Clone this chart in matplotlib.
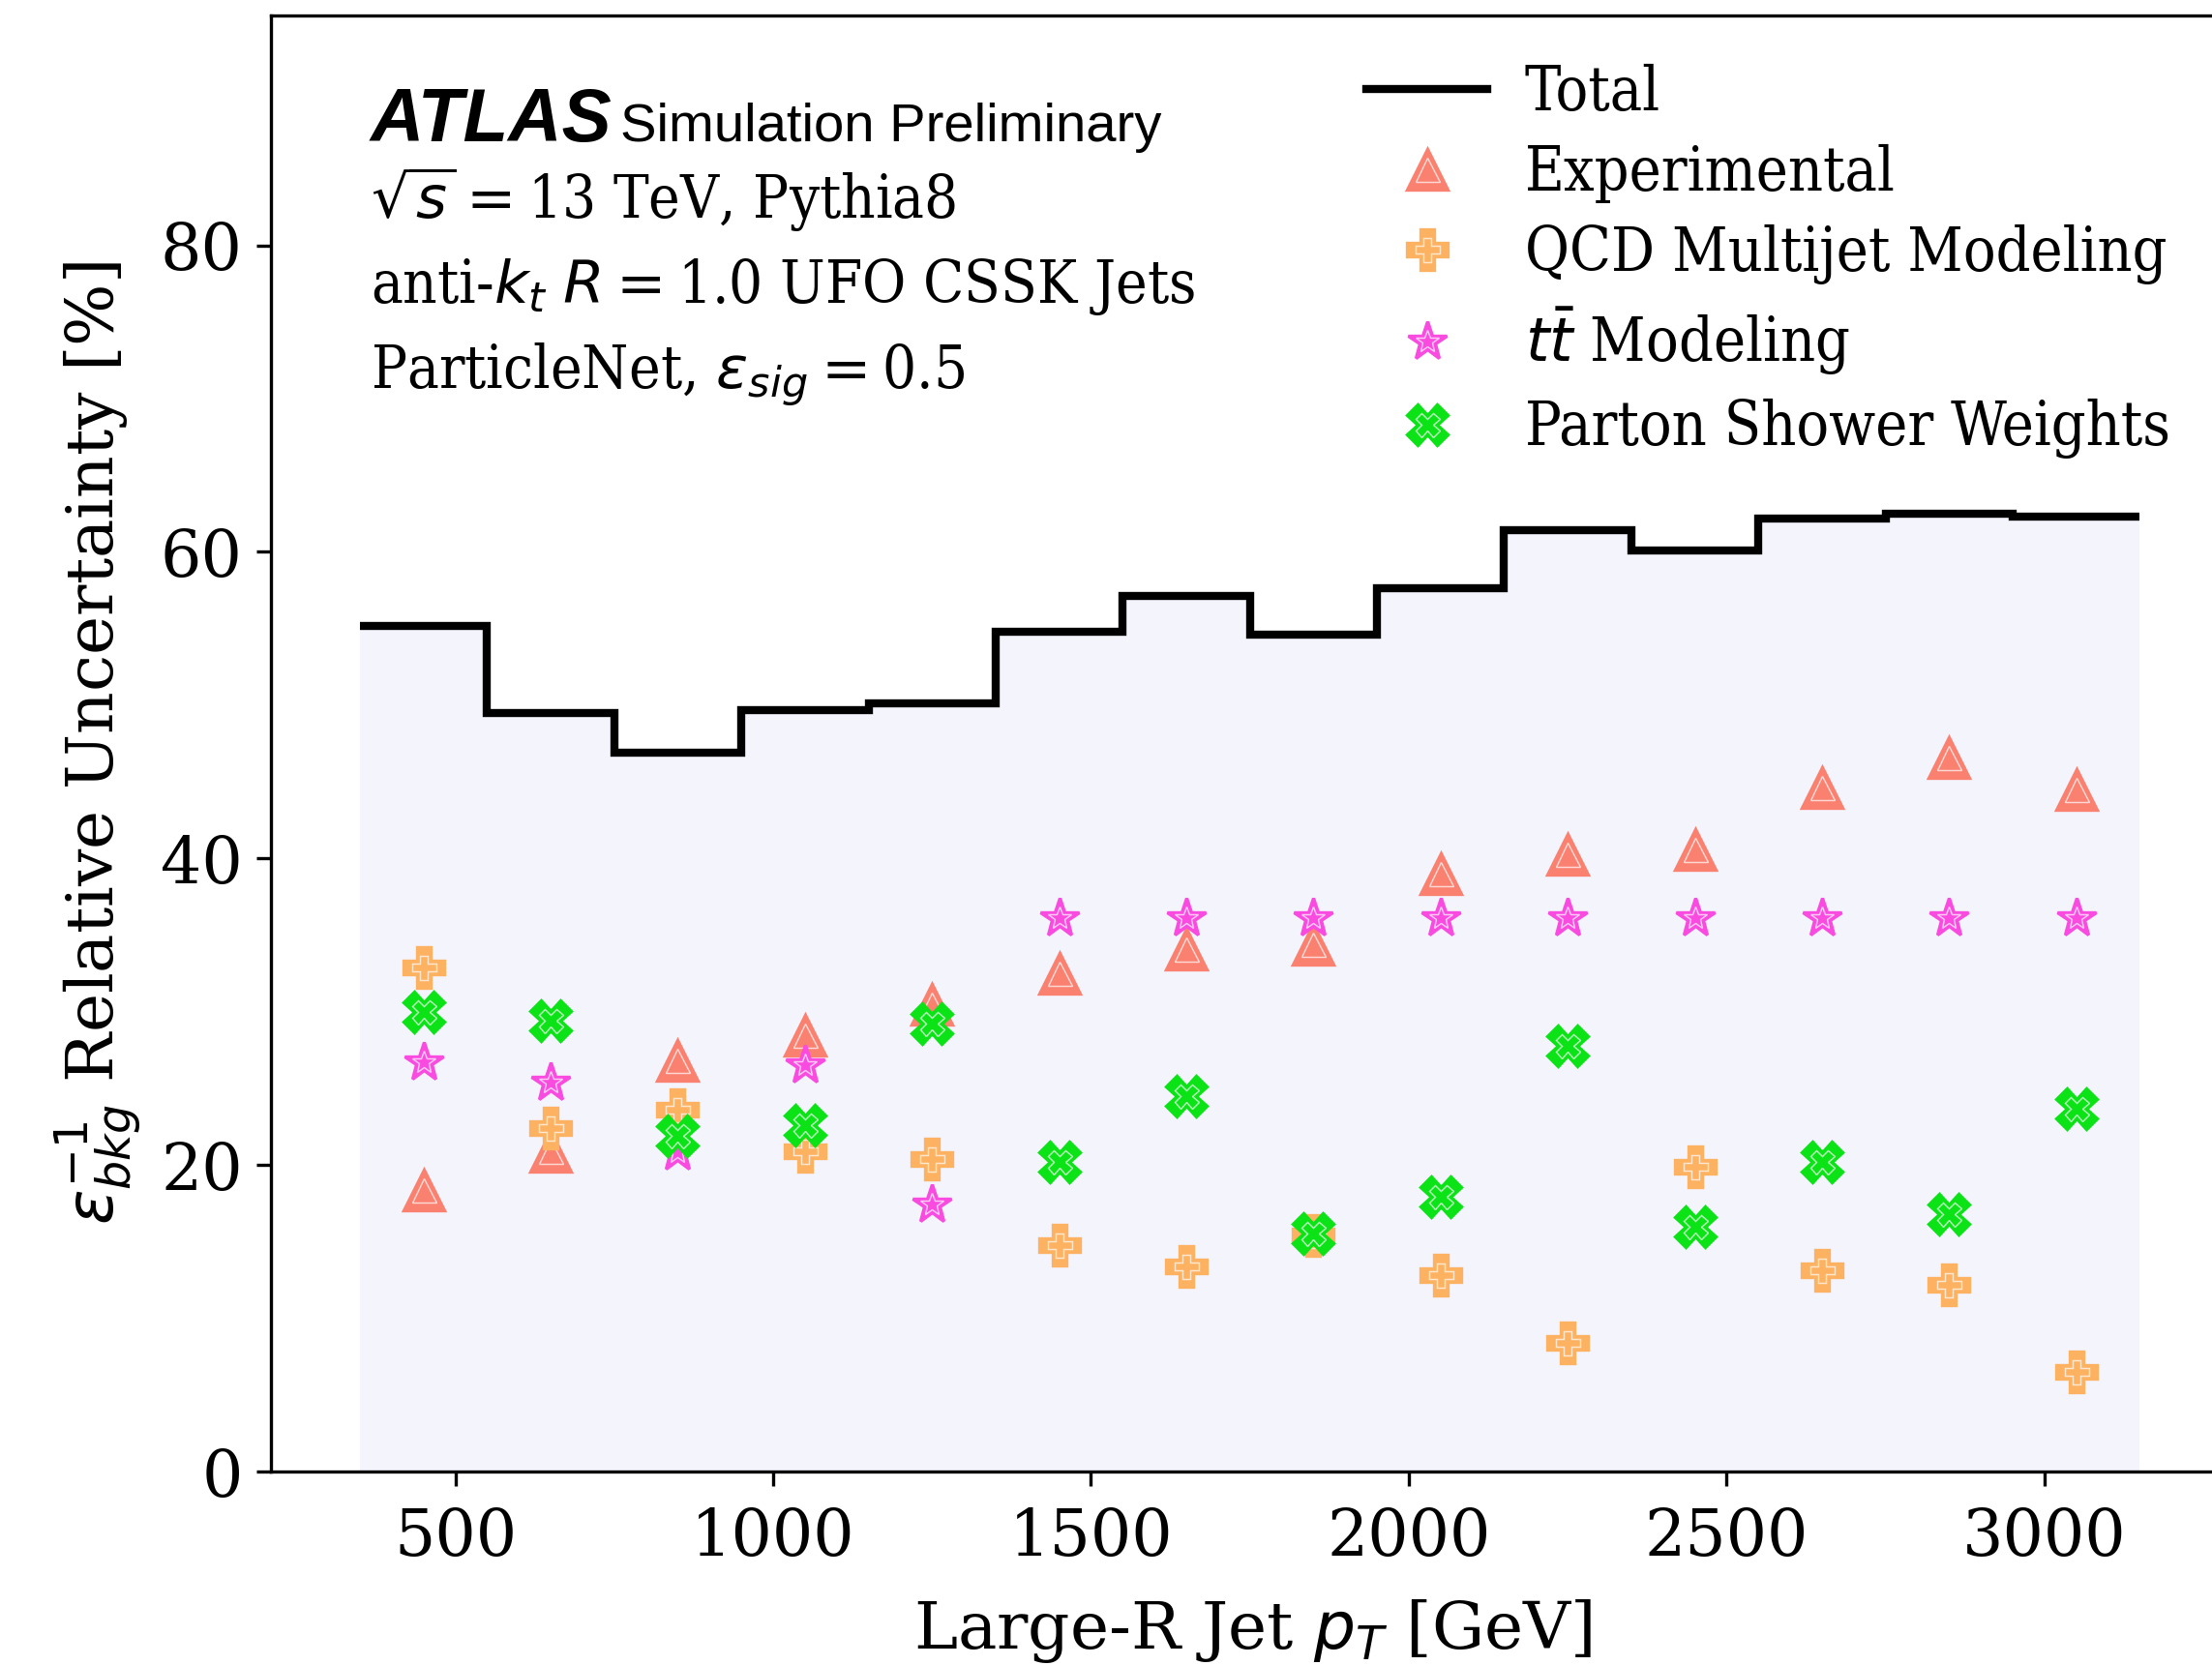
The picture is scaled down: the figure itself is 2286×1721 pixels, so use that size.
import numpy as np
import matplotlib
matplotlib.use("Agg")
import matplotlib.pyplot as plt
from matplotlib import font_manager as fm
from matplotlib.legend_handler import HandlerTuple

# Binning in large-R jet pT [GeV]
edges = [350, 550, 750, 950, 1150, 1350, 1550, 1750, 1950, 2150, 2350, 2550, 2750, 2950, 3150]
centers = [450, 650, 850, 1050, 1250, 1450, 1650, 1850, 2050, 2250, 2450, 2650, 2850, 3050]

# Uncertainties [%]
total = [55.2, 49.5, 46.9, 49.7, 50.1, 54.8, 57.1, 54.6, 57.6, 61.4, 60.1, 62.2, 62.5, 62.3]
experimental = [18.4, 20.9, 26.8, 28.5, 30.5, 32.5, 34.1, 34.4, 39.0, 40.3, 40.6, 44.6, 46.6, 44.5]
qcd_modeling = [32.9, 22.4, 23.6, 20.9, 20.4, 14.8, 13.4, 15.4, 12.8, 8.4, 19.9, 13.1, 12.2, 6.5]
ttbar_modeling = [26.7, 25.4, 20.8, 26.5, 17.4, 36.1, 36.1, 36.1, 36.1, 36.1, 36.1, 36.1, 36.1, 36.1]
ps_weights = [30.0, 29.4, 21.9, 22.6, 29.2, 20.2, 24.5, 15.5, 17.9, 27.8, 16.0, 20.2, 16.8, 23.7]

plt.rcParams['font.family'] = 'DejaVu Serif'
plt.rcParams['mathtext.fontset'] = 'dejavusans'

# narrower serif for legend / labels if the condensed face is installed
cond_file = None
for f in fm.fontManager.ttflist:
    if f.fname.endswith('DejaVuSerifCondensed.ttf'):
        cond_file = f.fname
if cond_file:
    leg_font = fm.FontProperties(fname=cond_file, size=15)
    txt_font = fm.FontProperties(fname=cond_file, size=14.75)
else:
    leg_font = fm.FontProperties(family='DejaVu Serif', size=13.6)
    txt_font = fm.FontProperties(family='DejaVu Serif', size=13.8)

W, H = 2286, 1721
fig = plt.figure(figsize=(W / 300, H / 300), dpi=300)
# axes runs off the right edge, like the reference crop
ax = fig.add_axes([280 / W, 200 / H, 2030 / W, 1505 / H])

ax.stairs(total, edges, fill=True, color='#f4f4fd', baseline=0, zorder=1)
line_total, = ax.step([], [], color='k', lw=2)
ax.stairs(total, edges, color='k', lw=2, baseline=None, zorder=3)

series = [
    (experimental, '^', '#fa8070', 10, 'Experimental'),
    (qcd_modeling, 'P', '#fdb262', 10, 'QCD Multijet Modeling'),
    (ttbar_modeling, '*', '#f94be0', 10, r'$t\bar{t}$ Modeling'),
    (ps_weights, 'X', '#0be317', 10, 'Parton Shower Weights'),
]
handles = [line_total]
labels = ['Total']
for vals, m, c, ms, lab in series:
    h1, = ax.plot(centers, vals, ls='none', marker=m, ms=ms, color=c,
                  mec=c, mew=0.8, zorder=2)
    h2, = ax.plot(centers, vals, ls='none', marker=m, ms=ms * 0.6, mfc='none',
                  mec='white', mew=0.35, alpha=0.7, zorder=2)
    handles.append((h1, h2))
    labels.append(lab)

ax.set_xlim(210, 3300)
ax.set_ylim(0, 95)
ax.set_yticks([0, 20, 40, 60, 80])
ax.tick_params(labelsize=16)
ax.tick_params(axis='x', pad=5)
ax.spines['right'].set_visible(False)
ax.set_xlabel('Large-R Jet $p_T$ [GeV]', fontsize=16.3, labelpad=7)
ax.set_ylabel(r'$\epsilon_{bkg}^{-1}$ Relative Uncertainty [%]', fontsize=16.3)

fig.legend(handles, labels, loc='upper left', bbox_to_anchor=(1412 / W, 1 - 66 / H),
           frameon=False, prop=leg_font, borderpad=0, borderaxespad=0,
           handlelength=2.0, handletextpad=0.62, labelspacing=0.35,
           handler_map={tuple: HandlerTuple(ndivide=1)})

fig.text(383 / W, 1 - 146 / H, 'ATLAS', fontsize=18.4, weight='bold', style='italic',
         family='Liberation Sans')
fig.text(641 / W, 1 - 146 / H, 'Simulation Preliminary', fontsize=13.5,
         family='Liberation Sans')
fig.text(383 / W, 1 - 226 / H, r'$\sqrt{s}=$13 TeV, Pythia8', fontproperties=txt_font)
fig.text(383 / W, 1 - 313 / H, r'anti-$k_t$ $R=$1.0 UFO CSSK Jets', fontproperties=txt_font)
fig.text(383 / W, 1 - 401 / H, r'ParticleNet, $\epsilon_{sig}=$0.5', fontproperties=txt_font)

fig.savefig('out.png', dpi=300)
